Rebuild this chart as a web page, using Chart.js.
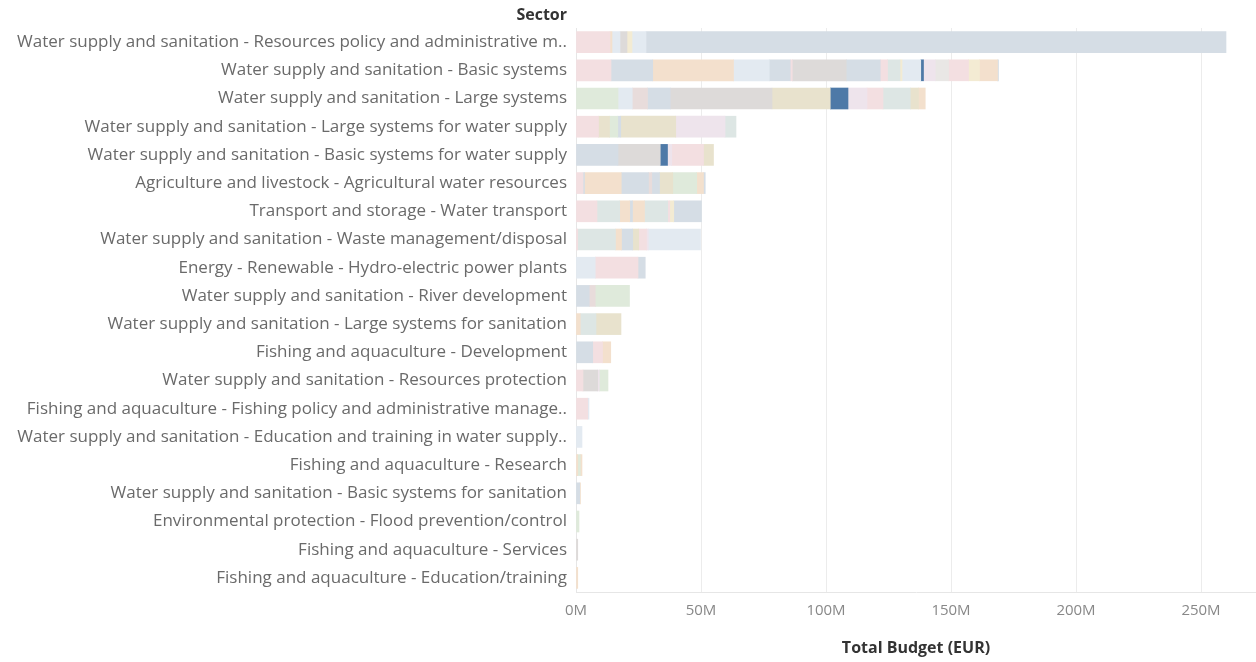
<!DOCTYPE html>
<html>
<head>
<meta charset="utf-8">
<script src="https://cdn.jsdelivr.net/npm/chart.js@4/dist/chart.umd.min.js"></script>
<style>
  body { margin: 0; background: #fff; }
  #wrap { width: 1256px; height: 662px; position: relative; }
</style>
</head>
<body>
<div id="wrap"><canvas id="budgetChart"></canvas></div>
<script>
// ==========================================
// data
// ==========================================
const sectors = [
    'Water supply and sanitation - Resources policy and administrative m..',
    'Water supply and sanitation - Basic systems',
    'Water supply and sanitation - Large systems',
    'Water supply and sanitation - Large systems for water supply',
    'Water supply and sanitation - Basic systems for water supply',
    'Agriculture and livestock - Agricultural water resources',
    'Transport and storage - Water transport',
    'Water supply and sanitation - Waste management/disposal',
    'Energy - Renewable - Hydro-electric power plants',
    'Water supply and sanitation - River development',
    'Water supply and sanitation - Large systems for sanitation',
    'Fishing and aquaculture - Development',
    'Water supply and sanitation - Resources protection',
    'Fishing and aquaculture - Fishing policy and administrative manage..',
    'Water supply and sanitation - Education and training in water supply..',
    'Fishing and aquaculture - Research',
    'Water supply and sanitation - Basic systems for sanitation',
    'Environmental protection - Flood prevention/control',
    'Fishing and aquaculture - Services',
    'Fishing and aquaculture - Education/training'
];

// budget per project segment, in millions EUR (one list per sector, stacked left to right)
const segmentValues = [
    [13.6, 0.8, 3.2, 2.8, 2, 5.6, 232],
    [14, 16.7, 32.3, 14.3, 8.4, 0.8, 21.6, 13.6, 2.9, 5, 0.8, 7.5, 1.1, 4.7, 5.3, 8, 4.4, 7.2, 0.4],
    [16.8, 5.7, 6.1, 9.1, 40.7, 23.3, 7.1, 7.6, 6.4, 10.9, 3.3, 2.7],
    [9, 4.4, 3.3, 1.2, 22, 19.7, 4.4],
    [16.8, 16.9, 2.9, 1.7, 12.7, 4],
    [2.8, 0.6, 14.7, 10.9, 1.3, 3.1, 5.3, 9.6, 2.7, 0.7],
    [8.4, 9.1, 4, 1.1, 4.8, 9.3, 0.8, 1.6, 11.1],
    [0.7, 15.1, 2.4, 4.5, 2.4, 3.1, 0.7, 20.9],
    [7.7, 17.1, 2.9],
    [5.3, 2.4, 13.7],
    [1.7, 6.3, 10],
    [6.7, 3.9, 3.3],
    [2.8, 5.9, 0.6, 3.5],
    [4.7, 0.5],
    [2.4],
    [0.7, 1, 0.7],
    [1.5, 0.3],
    [1.2],
    [0.7],
    [0.7]
];

const xTicks = [0, 50, 100, 150, 200, 250];

// ==========================================
// colours (faded tableau palette, selected marks in full blue)
// ==========================================
const pal = {
    pink: '#f3dfe1', steel: '#d5dde5', sky: '#e3eaf1', peach: '#f3e0cd',
    grey: '#dddad9', tan: '#e8e2cd', green: '#dfeadb', teal: '#dde6e4',
    lav: '#eee4ec', rose: '#e8dcdb', yellow: '#f3ebd3', light: '#e9e7e5',
    hi: '#4e79a7'
};

const segmentColors = [
    ['pink', 'peach', 'sky', 'grey', 'yellow', 'sky', 'steel'],
    ['pink', 'steel', 'peach', 'sky', 'steel', 'pink', 'grey', 'steel', 'pink', 'teal', 'yellow', 'sky', 'hi', 'lav', 'light', 'pink', 'yellow', 'peach', 'steel'],
    ['green', 'sky', 'rose', 'steel', 'grey', 'tan', 'hi', 'lav', 'pink', 'teal', 'tan', 'peach'],
    ['pink', 'tan', 'green', 'steel', 'tan', 'lav', 'teal'],
    ['steel', 'grey', 'hi', 'lav', 'pink', 'tan'],
    ['pink', 'steel', 'peach', 'steel', 'rose', 'steel', 'tan', 'green', 'peach', 'steel'],
    ['pink', 'teal', 'peach', 'steel', 'peach', 'teal', 'pink', 'yellow', 'steel'],
    ['pink', 'teal', 'peach', 'steel', 'tan', 'pink', 'lav', 'sky'],
    ['sky', 'pink', 'steel'],
    ['steel', 'rose', 'green'],
    ['peach', 'teal', 'tan'],
    ['steel', 'pink', 'peach'],
    ['pink', 'grey', 'lav', 'green'],
    ['pink', 'sky'],
    ['sky'],
    ['peach', 'green', 'peach'],
    ['steel', 'peach'],
    ['green'],
    ['grey'],
    ['peach']
];

// one dataset per stack position
const maxSegs = Math.max(...segmentValues.map(r => r.length));
const datasets = [];
for (let k = 0; k < maxSegs; k++) {
    datasets.push({
        label: 'segment ' + (k + 1),
        data: segmentValues.map(r => (k < r.length ? r[k] : null)),
        backgroundColor: segmentColors.map(r => (k < r.length ? pal[r[k]] : 'transparent')),
        borderWidth: 0,
        barThickness: 21
    });
}

// "Sector" header above the row labels
const sectorHeader = {
    id: 'sectorHeader',
    afterDraw(chart) {
        const ctx = chart.ctx;
        ctx.save();
        ctx.font = 'bold 16px "Open Sans"';
        ctx.fillStyle = '#333';
        ctx.textAlign = 'right';
        ctx.textBaseline = 'middle';
        ctx.fillText('Sector', chart.chartArea.left - 9, 15);
        ctx.restore();
    }
};

new Chart(document.getElementById('budgetChart'), {
    type: 'bar',
    data: { labels: sectors, datasets: datasets },
    plugins: [sectorHeader],
    options: {
        indexAxis: 'y',
        responsive: true,
        maintainAspectRatio: false,
        animation: false,
        layout: { padding: { top: 28, right: 0, left: 0, bottom: 0 } },
        plugins: { legend: { display: false }, tooltip: { enabled: false } },
        scales: {
            x: {
                stacked: true,
                min: 0,
                max: 272,
                afterBuildTicks: (scale) => { scale.ticks = xTicks.map(v => ({ value: v })); },
                ticks: {
                    callback: (v) => v + 'M',
                    color: '#888',
                    font: { family: 'Open Sans', size: 15 },
                    padding: 10,
                    maxRotation: 0
                },
                grid: { color: '#ececec', drawTicks: false },
                border: { color: '#e6e6e6' },
                title: {
                    display: true,
                    text: 'Total Budget (EUR)',
                    color: '#333',
                    font: { family: 'Open Sans', size: 16, weight: 'bold' },
                    padding: { top: 0, bottom: 4 }
                },
                afterFit: (scale) => { scale.height = 70; }
            },
            y: {
                stacked: true,
                ticks: {
                    color: '#6a6a6a',
                    font: { family: 'Open Sans', size: 17 },
                    padding: 9,
                    autoSkip: false
                },
                grid: { display: false, drawTicks: false },
                border: { color: '#e6e6e6' },
                afterFit: (scale) => { scale.width = 576; }
            }
        }
    }
});
</script>
</body>
</html>
